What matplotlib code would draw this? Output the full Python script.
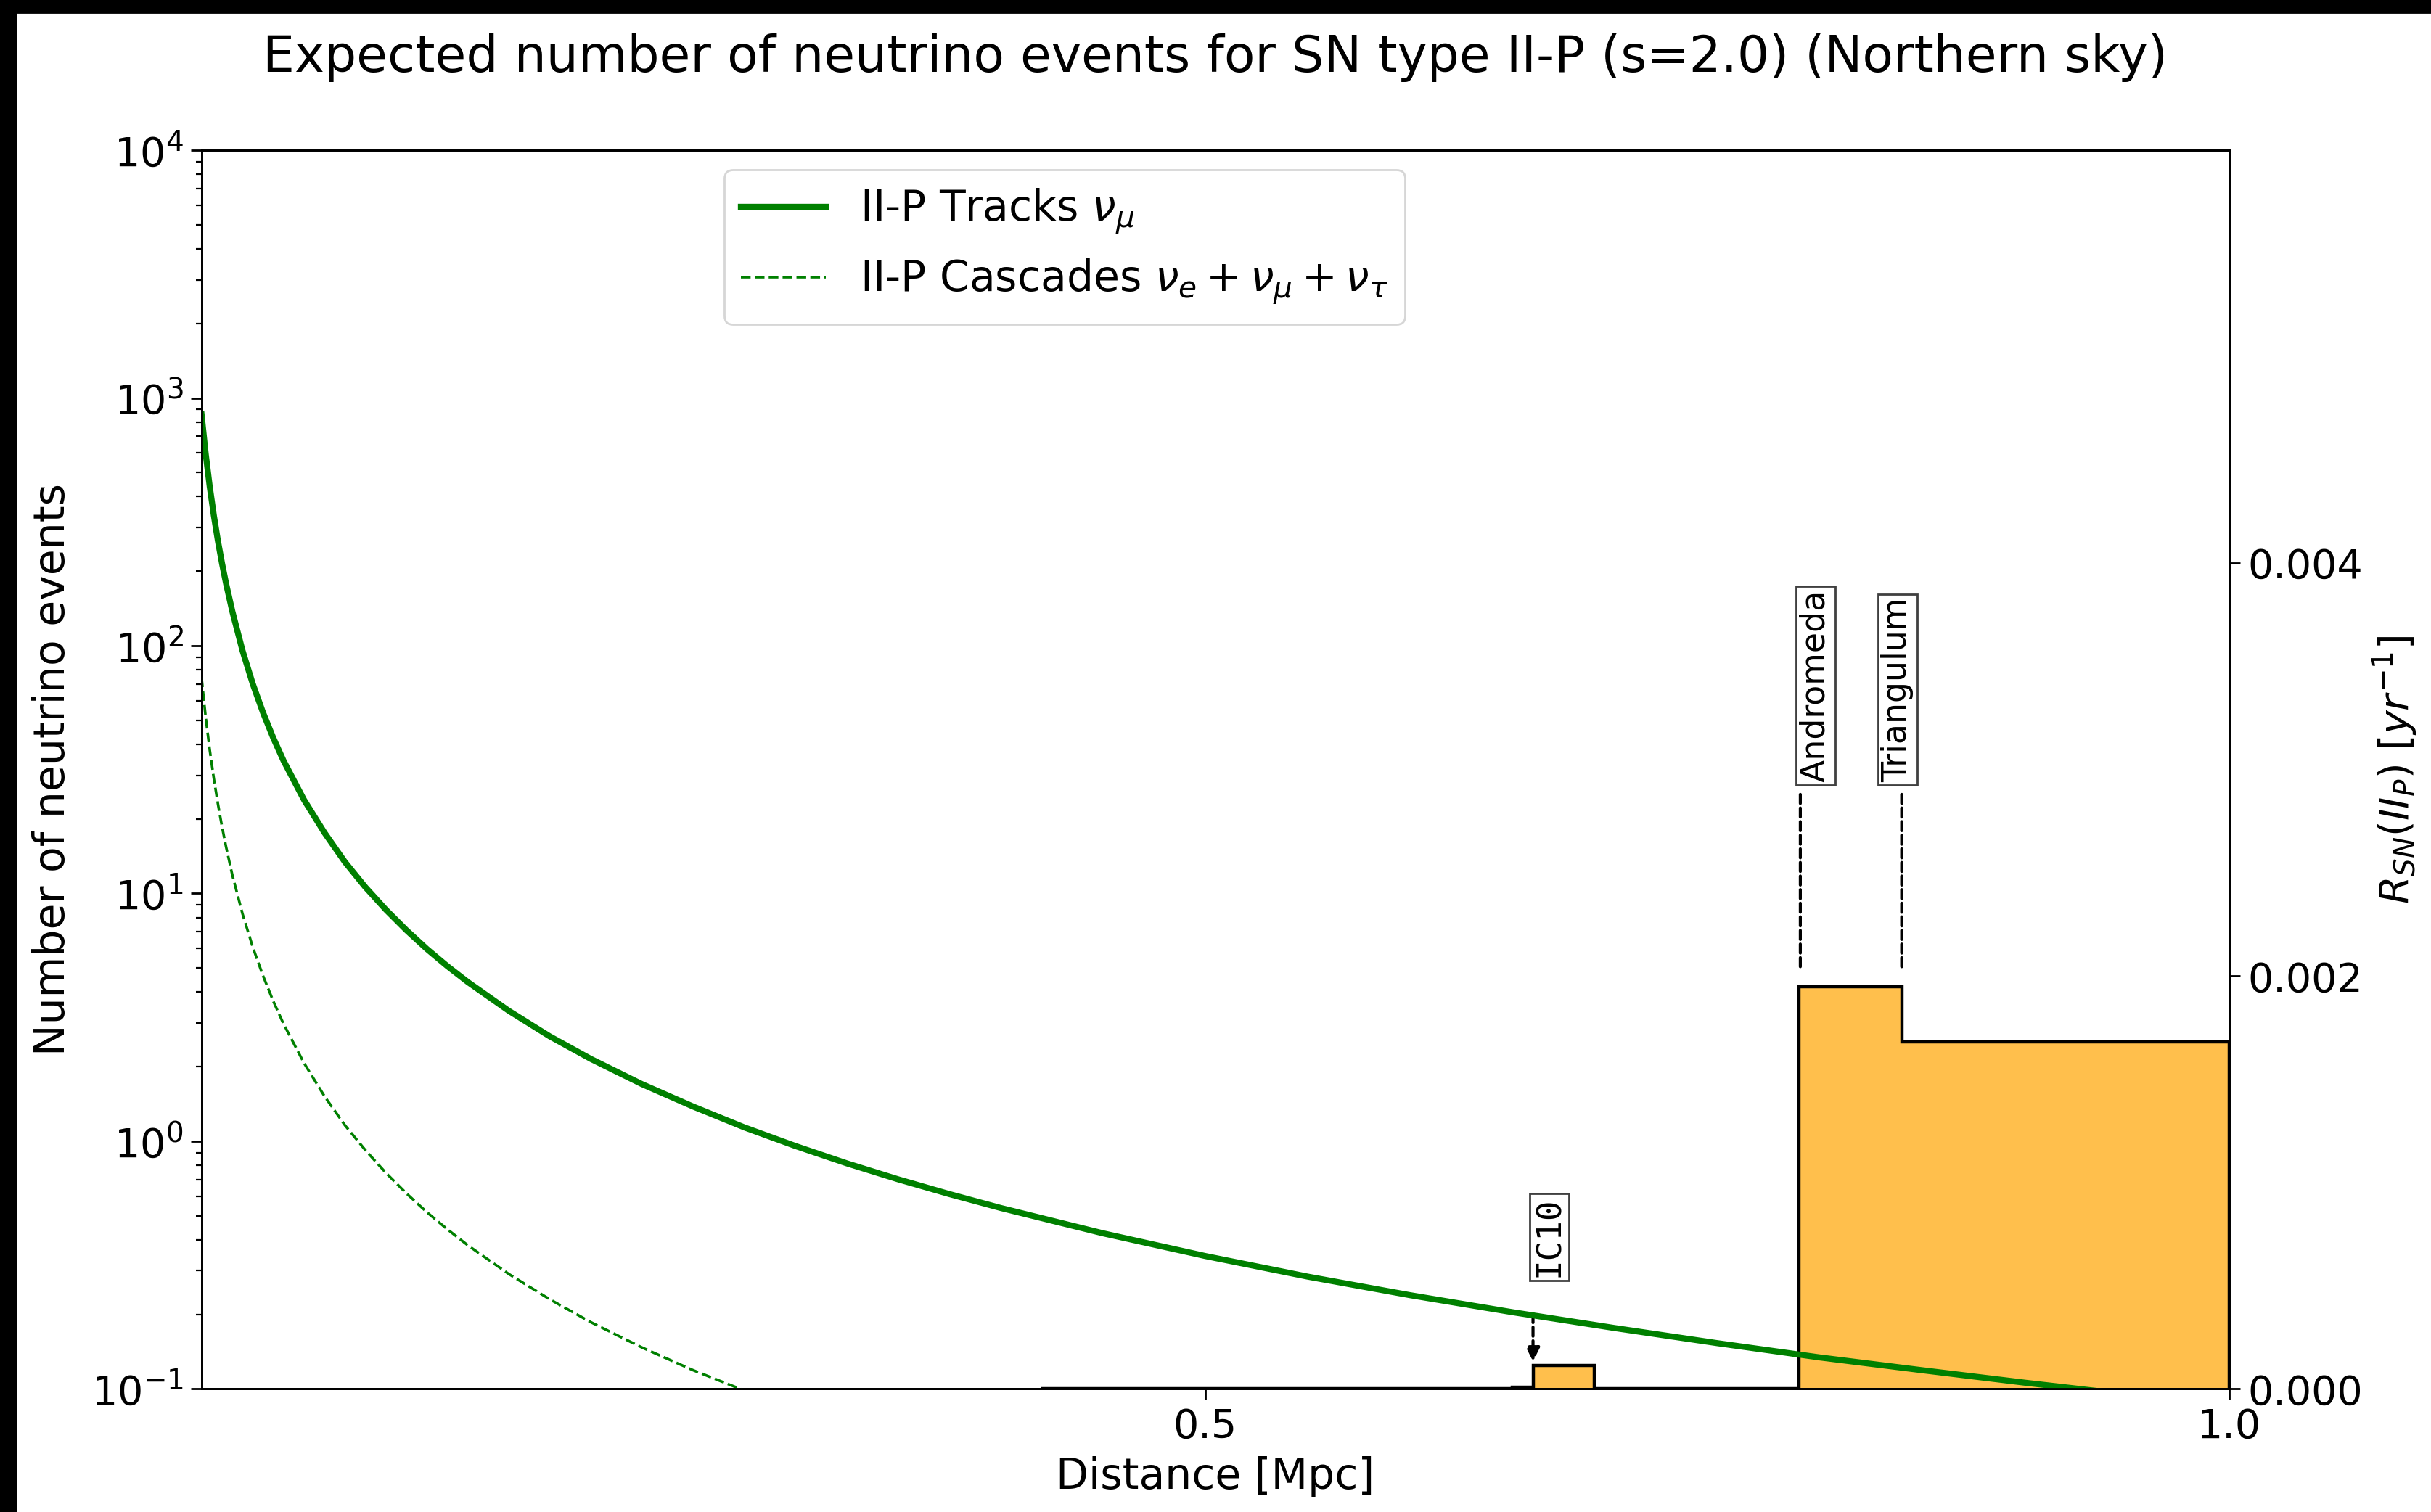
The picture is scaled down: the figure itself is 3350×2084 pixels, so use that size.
import matplotlib.pyplot as plt
from matplotlib.patches import Rectangle

# Expected number of events vs. distance [Mpc] for a II-P supernova (s = 2.0)
distance = [0.010, 0.012, 0.014, 0.016, 0.018, 0.020, 0.022, 0.025, 0.030, 0.035,
            0.040, 0.045, 0.050, 0.060, 0.070, 0.080, 0.090, 0.100, 0.110, 0.120,
            0.130, 0.140, 0.160, 0.180, 0.200, 0.225, 0.250, 0.275, 0.300, 0.325,
            0.350, 0.375, 0.400, 0.450, 0.500, 0.550, 0.600, 0.650, 0.700, 0.750,
            0.800, 0.850, 0.900, 0.950, 1.000]
tracks = [860, 597, 439, 336, 265, 215, 178, 138, 95.6, 70.2,
          53.8, 42.5, 34.4, 23.9, 17.6, 13.4, 10.6, 8.6, 7.11, 5.97,
          5.09, 4.39, 3.36, 2.65, 2.15, 1.70, 1.38, 1.137, 0.956, 0.814,
          0.702, 0.612, 0.538, 0.425, 0.344, 0.284, 0.239, 0.204, 0.176, 0.153,
          0.134, 0.119, 0.106, 0.095, 0.086]
cascades = [74.5, 51.7, 38.0, 29.1, 23.0, 18.6, 15.4, 11.9, 8.28, 6.08,
            4.66, 3.68, 2.98, 2.07, 1.52, 1.16, 0.920, 0.745, 0.616, 0.517,
            0.441, 0.380, 0.291, 0.230, 0.186, 0.147, 0.119, 0.0985, 0.083, 0.0705,
            0.061, 0.053, 0.047, 0.037, 0.030, 0.025, 0.021, 0.018, 0.015, 0.013,
            0.012, 0.010, 0.0092, 0.0083, 0.0075]

# SN II-P rate per distance bin [1/yr]
rate_edges = [0.42, 0.65, 0.66, 0.69, 0.79, 0.84, 1.00]
rate_values = [0.0, 0.00001, 0.000114, 0.0, 0.00195, 0.00168]

# nearby galaxies marked on the rate histogram
galaxies = ['IC10', 'Andromeda', 'Triangulum']
galaxy_dist = [0.660, 0.7905, 0.840]

plt.rcParams['font.family'] = 'DejaVu Sans'
plt.rcParams['mathtext.fontset'] = 'dejavusans'

fig = plt.figure(figsize=(16.75, 10.42), dpi=200)
ax = fig.add_axes([0.0829, 0.0814, 0.8342, 0.8192])
ax2 = ax.twinx()

# rate histogram on the right axis
ax2.stairs(rate_values, rate_edges, baseline=0, fill=True, color='orange', alpha=0.7, lw=0)
ax2.stairs(rate_values, rate_edges, baseline=0, color='black', lw=1.6)
ax2.set_ylim(0, 0.006)
ax2.set_yticks([0.0, 0.002, 0.004])
ax2.set_yticklabels(['0.000', '0.002', '0.004'])
ax2.set_ylabel(r'$R_{SN}(II_P)$ $[yr^{-1}]$', fontsize=20)

# galaxy labels with dashed pointers
label_y = {'IC10': 0.000542, 'Andromeda': 0.00294, 'Triangulum': 0.00294}
label_x = {'IC10': 0.668, 'Andromeda': 0.798, 'Triangulum': 0.838}
arrow_span = {'IC10': (0.000365, 0.000114), 'Andromeda': (0.00288, 0.00203),
              'Triangulum': (0.00288, 0.00203)}
for name, d in zip(galaxies, galaxy_dist):
    fam = 'DejaVu Sans Mono' if name == 'IC10' else 'DejaVu Sans'
    ax2.text(label_x[name], label_y[name], name, rotation=90, ha='center', va='bottom',
             fontsize=16.5, family=fam,
             bbox=dict(boxstyle='square,pad=0.1', fc='white', ec='0.25', lw=1.0))
    y0, y1 = arrow_span[name]
    style = '-|>' if name == 'IC10' else '-'
    ax2.annotate('', xy=(d, y1), xytext=(d, y0),
                 arrowprops=dict(arrowstyle=style, color='black', lw=1.5,
                                 linestyle=(0, (3, 1.5)), shrinkA=0,
                                 shrinkB=2 if name == 'IC10' else 0,
                                 mutation_scale=14))

# event curves on the left (log) axis, drawn above the histogram
ax.set_zorder(ax2.get_zorder() + 1)
ax.patch.set_visible(False)
ax.plot(distance, tracks, color='green', lw=3.0, label=r'II-P Tracks $\nu_\mu$')
ax.plot(distance, cascades, color='green', lw=1.3, ls='--',
        label=r'II-P Cascades $\nu_e + \nu_\mu + \nu_\tau$')
ax.set_yscale('log')
ax.set_ylim(0.1, 1e4)
ax.set_xlim(0.01, 1.0)
ax.set_xticks([0.5, 1.0])
ax.set_xlabel('Distance [Mpc]', fontsize=21, labelpad=5)
ax.set_ylabel('Number of neutrino events', fontsize=21, labelpad=9)
ax.set_title('Expected number of neutrino events for SN type II-P (s=2.0) (Northern sky)',
             fontsize=25, pad=39)
ax.legend(loc='upper left', bbox_to_anchor=(0.2577, 0.984), borderaxespad=0, fontsize=21)

for a in (ax, ax2):
    a.tick_params(which='major', labelsize=20, length=5.5, width=1.0)
    a.tick_params(which='minor', length=3, width=0.8)
    for s in a.spines.values():
        s.set_linewidth(1.0)

# dark frame strips along the top and left edges
fig.patches.append(Rectangle((0, 1 - 17 / 2084), 1, 17 / 2084, transform=fig.transFigure,
                             color='black', zorder=10))
fig.patches.append(Rectangle((0, 0), 22 / 3350, 1, transform=fig.transFigure,
                             color='black', zorder=10))

fig.savefig('out.png', dpi=200)
